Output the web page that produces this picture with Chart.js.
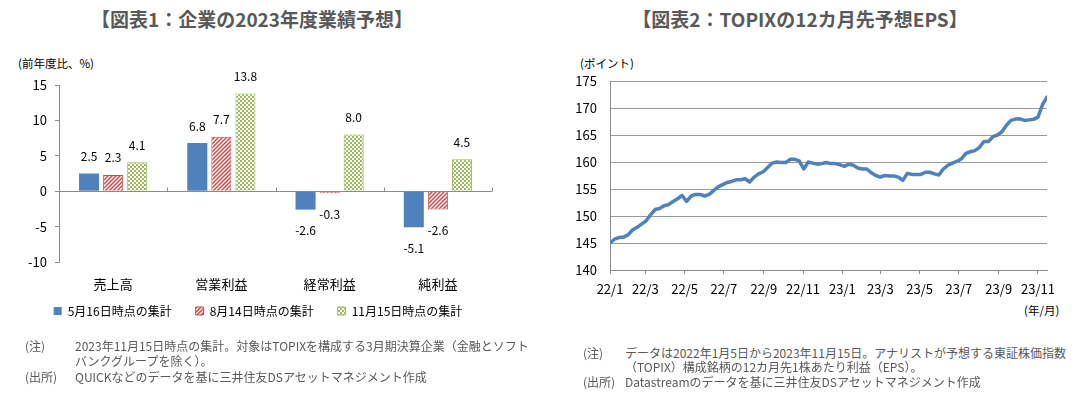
<!DOCTYPE html>
<html>
<head>
<meta charset="utf-8">
<script src="https://cdn.jsdelivr.net/npm/chart.js@4.4.0/dist/chart.umd.min.js"></script>
<style>
  body { margin: 0; width: 1087px; height: 397px; background: #fff; position: relative; overflow: hidden;
         font-family: "Noto Sans CJK JP", sans-serif; }
  .title { position: absolute; top: 8px; line-height: 22px; font-size: 19px; font-weight: bold; color: #595959;
           transform: translateX(-50%); white-space: nowrap; }
  .unit { position: absolute; font-size: 11.5px; line-height: 14px; color: #000; white-space: nowrap; }
  .note { position: absolute; font-size: 12px; line-height: 15px; color: #595959; white-space: nowrap; }
  canvas { position: absolute; }
</style>
</head>
<body>
<div class="title" style="left:252px">【図表1：企業の2023年度業績予想】</div>
<div class="title" style="left:800px">【図表2：TOPIXの12カ月先予想EPS】</div>

<div class="unit" style="left:18px; top:56px">(前年度比、%)</div>
<div class="unit" style="left:580px; top:56px">(ポイント)</div>
<div class="unit" style="left:1024px; top:303px">(年/月)</div>

<canvas id="earningsChart" width="540" height="305" style="left:0; top:40px"></canvas>
<canvas id="epsChart" width="547" height="260" style="left:540px; top:40px"></canvas>

<div class="note" style="left:25px; top:338px">(注)</div>
<div class="note" style="left:75px; top:338px">2023年11月15日時点の集計。対象はTOPIXを構成する3月期決算企業（金融とソフト</div>
<div class="note" style="left:75px; top:353px">バンクグループを除く）。</div>
<div class="note" style="left:25px; top:369px">(出所)</div>
<div class="note" style="left:75px; top:369px">QUICKなどのデータを基に三井住友DSアセットマネジメント作成</div>

<div class="note" style="left:583px; top:345px">(注)</div>
<div class="note" style="left:625px; top:345px">データは2022年1月5日から2023年11月15日。アナリストが予想する東証株価指数</div>
<div class="note" style="left:625px; top:359px">（TOPIX）構成銘柄の12カ月先1株あたり利益（EPS）。</div>
<div class="note" style="left:583px; top:374px">(出所)</div>
<div class="note" style="left:625px; top:374px">Datastreamのデータを基に三井住友DSアセットマネジメント作成</div>

<script>
// chart 1 : 2023年度業績予想 (前年度比, %)
const categories = ['売上高', '営業利益', '経常利益', '純利益'];
const seriesNames = ['5月16日時点の集計', '8月14日時点の集計', '11月15日時点の集計'];
const may16 = [2.5, 6.8, -2.6, -5.1];
const aug14 = [2.3, 7.7, -0.3, -2.6];
const nov15 = [4.1, 13.8, 8.0, 4.5];

// chart 2 : TOPIX 12カ月先予想EPS, weekly from 2022/1/5 to 2023/11/15
const epsStart = [2022, 1, 5];
const epsValues = [
  145.0, 145.7, 146.0, 146.1, 146.5, 147.4, 147.9, 148.5, 149.1, 150.2,
  151.2, 151.4, 151.9, 152.1, 152.7, 153.2, 153.8, 152.7, 153.7, 154.0,
  154.0, 153.7, 154.0, 154.7, 155.4, 155.8, 156.2, 156.4, 156.7, 156.7,
  156.9, 156.3, 157.2, 157.8, 158.2, 159.0, 159.8, 160.0, 159.9, 159.9,
  160.5, 160.5, 160.2, 158.7, 160.0, 159.8, 159.6, 159.7, 159.9, 159.7,
  159.7, 159.5, 159.2, 159.6, 159.4, 158.9, 158.7, 158.7, 158.0, 157.5,
  157.2, 157.5, 157.4, 157.4, 157.2, 156.6, 157.9, 157.7, 157.7, 157.7,
  158.1, 158.1, 157.8, 157.6, 158.7, 159.4, 159.8, 160.1, 160.6, 161.6,
  161.9, 162.1, 162.7, 163.8, 163.8, 164.7, 165.0, 165.6, 166.8, 167.7,
  167.95, 168.0, 167.7, 167.8, 167.9, 168.3, 170.6, 172.0
];
const monthTicks = ['22/1', '22/3', '22/5', '22/7', '22/9', '22/11', '23/1', '23/3', '23/5', '23/7', '23/9', '23/11'];

const FONT = '"Noto Sans CJK JP", sans-serif';
const BLUE = '#4F81BD', RED = '#C0504D', GREEN = '#9BBB59';

function hatchPattern(color) {
  const c = document.createElement('canvas');
  c.width = c.height = 4;
  const g = c.getContext('2d');
  g.fillStyle = '#fff';
  g.fillRect(0, 0, 4, 4);
  g.strokeStyle = color;
  g.lineWidth = 1.5;
  g.beginPath();
  g.moveTo(-1, 5); g.lineTo(5, -1);
  g.moveTo(-1, 1); g.lineTo(1, -1);
  g.moveTo(3, 5); g.lineTo(5, 3);
  g.stroke();
  return g.createPattern(c, 'repeat');
}

function checkerPattern(color) {
  const c = document.createElement('canvas');
  c.width = c.height = 4;
  const g = c.getContext('2d');
  g.fillStyle = '#fff';
  g.fillRect(0, 0, 4, 4);
  g.fillStyle = color;
  g.fillRect(0, 0, 2, 2);
  g.fillRect(2, 2, 2, 2);
  return g.createPattern(c, 'repeat');
}

// zero line with small ticks at category borders
const zeroAxis = {
  id: 'zeroAxis',
  beforeDatasetsDraw(chart) {
    const { ctx, chartArea: a, scales: { y } } = chart;
    const y0 = Math.round(y.getPixelForValue(0)) + 0.5;
    const step = (a.right - a.left) / categories.length;
    ctx.save();
    ctx.strokeStyle = '#8c8c8c';
    ctx.lineWidth = 1;
    ctx.beginPath();
    ctx.moveTo(a.left, y0);
    ctx.lineTo(a.right, y0);
    for (let i = 1; i <= categories.length; i++) {
      const xx = Math.round(a.left + step * i) + 0.5;
      ctx.moveTo(xx, y0);
      ctx.lineTo(xx, y0 - 4);
    }
    ctx.stroke();
    ctx.restore();
  }
};

// value labels above / below bars
const barValues = {
  id: 'barValues',
  afterDatasetsDraw(chart) {
    const { ctx } = chart;
    ctx.save();
    ctx.font = '12px ' + FONT;
    ctx.fillStyle = '#000';
    ctx.textAlign = 'center';
    ctx.textBaseline = 'middle';
    chart.data.datasets.forEach((ds, di) => {
      chart.getDatasetMeta(di).data.forEach((bar, i) => {
        const v = ds.data[i];
        const yy = v >= 0 ? bar.y - 17 : bar.y + 21;
        ctx.fillText(v.toFixed(1), bar.x, yy);
      });
    });
    ctx.restore();
  }
};

// nudge the legend row closer to the axis labels, like the original
const legendNudge = {
  id: 'legendNudge',
  afterLayout(chart) {
    const lg = chart.legend;
    lg.left += 12; lg.right += 12;
    lg.top -= 16; lg.bottom -= 16;
  }
};

new Chart(document.getElementById('earningsChart').getContext('2d'), {
  type: 'bar',
  data: {
    labels: categories,
    datasets: [
      { label: seriesNames[0], data: may16, backgroundColor: BLUE, borderColor: BLUE, borderWidth: 0 },
      { label: seriesNames[1], data: aug14, backgroundColor: hatchPattern(RED), borderColor: RED, borderWidth: 1 },
      { label: seriesNames[2], data: nov15, backgroundColor: checkerPattern(GREEN), borderColor: GREEN, borderWidth: 1 }
    ]
  },
  options: {
    responsive: false,
    animation: false,
    datasets: { bar: { categoryPercentage: 0.667, barPercentage: 0.833 } },
    layout: { padding: { left: 0, right: 48, top: 45, bottom: 2 } },
    plugins: {
      tooltip: { enabled: false },
      legend: {
        position: 'bottom',
        labels: { boxWidth: 8, boxHeight: 8, padding: 24, color: '#000', font: { family: FONT, size: 12 } }
      }
    },
    scales: {
      x: {
        grid: { display: false, drawTicks: false },
        border: { display: false },
        ticks: { padding: 14, color: '#000', font: { family: FONT, size: 13 } },
        afterFit(s) { s.height = 35; }
      },
      y: {
        min: -10, max: 15,
        ticks: { stepSize: 5, padding: 8, color: '#000', font: { family: FONT, size: 13 } },
        grid: { drawOnChartArea: false, tickLength: 4, color: '#8c8c8c' },
        border: { color: '#8c8c8c' },
        afterFit(s) { s.width = 59; }
      }
    }
  },
  plugins: [zeroAxis, barValues, legendNudge]
});

// day numbers counted from 2022/1/1
const DAY = 86400000;
const base = Date.UTC(2022, 0, 1);
const firstDay = (Date.UTC(epsStart[0], epsStart[1] - 1, epsStart[2]) - base) / DAY;
const epsPoints = epsValues.map((v, i) => ({ x: firstDay + 7 * i, y: v }));
const lastDay = epsPoints[epsPoints.length - 1].x;
const tickDays = monthTicks.map(t => {
  const [yy, mm] = t.split('/').map(Number);
  return Math.max((Date.UTC(2000 + yy, mm - 1, 1) - base) / DAY, firstDay);
});

new Chart(document.getElementById('epsChart').getContext('2d'), {
  type: 'line',
  data: {
    datasets: [{
      label: 'TOPIX 12カ月先予想EPS',
      data: epsPoints,
      borderColor: BLUE,
      borderWidth: 3.5,
      pointRadius: 0,
      tension: 0,
      borderJoinStyle: 'round',
      borderCapStyle: 'round'
    }]
  },
  options: {
    responsive: false,
    animation: false,
    layout: { padding: { left: 0, right: 40, top: 41, bottom: 0 } },
    plugins: { legend: { display: false }, tooltip: { enabled: false } },
    scales: {
      x: {
        type: 'linear',
        min: firstDay, max: lastDay,
        afterBuildTicks(s) { s.ticks = tickDays.map(v => ({ value: v })); },
        ticks: {
          autoSkip: false, maxRotation: 0, minRotation: 0, padding: 7,
          color: '#000', font: { family: FONT, size: 13 },
          callback: (v, i) => monthTicks[i]
        },
        grid: { drawOnChartArea: false, tickLength: 4, color: '#8c8c8c' },
        border: { color: '#8c8c8c' },
        afterFit(s) { s.height = 30; }
      },
      y: {
        min: 140, max: 175,
        ticks: { stepSize: 5, padding: 13, color: '#000', font: { family: FONT, size: 13 } },
        grid: { color: '#9a9a9a', drawTicks: false },
        border: { color: '#8c8c8c' },
        afterFit(s) { s.width = 70; }
      }
    }
  }
});
</script>
</body>
</html>
